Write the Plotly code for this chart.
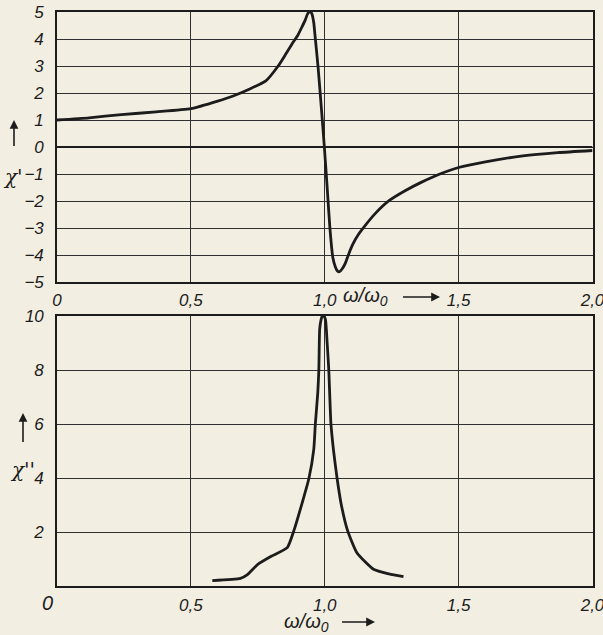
import plotly.graph_objects as go

# chi' (dispersion)
chi1_x = [0, 0.12, 0.24, 0.37, 0.5, 0.6, 0.66, 0.72, 0.78, 0.826, 0.855, 0.88, 0.90, 0.915,
          0.927, 0.936, 0.944, 0.952, 0.959, 0.963, 0.975, 0.987, 0.9985, 1.009, 1.019, 1.03,
          1.04, 1.048, 1.055, 1.066, 1.077, 1.09, 1.105, 1.125, 1.15, 1.19, 1.24, 1.3, 1.36,
          1.43, 1.5, 1.6, 1.74, 1.87, 2.0]
chi1_y = [1.0, 1.08, 1.2, 1.3, 1.42, 1.7, 1.9, 2.15, 2.45, 3.0, 3.45, 3.85, 4.15, 4.45,
          4.7, 4.93, 5.02, 4.93, 4.6, 4.2, 2.97, 1.49, 0.0, -1.49, -2.97, -4.08,
          -4.45, -4.6, -4.62, -4.5, -4.3, -3.95, -3.6, -3.25, -2.92, -2.45, -1.99, -1.62, -1.31,
          -1.0, -0.76, -0.55, -0.33, -0.21, -0.13]

# chi'' (absorption)
chi2_x = [0.58, 0.685, 0.71, 0.75, 0.80, 0.86, 0.885, 0.916, 0.941, 0.959, 0.965, 0.974,
          0.978, 0.981, 0.986, 0.991, 0.997, 1.003, 1.009, 1.015, 1.023, 1.033, 1.046, 1.062,
          1.085, 1.12, 1.182, 1.24, 1.294]
chi2_y = [0.2, 0.28, 0.41, 0.8, 1.1, 1.42, 2.06, 3.09, 3.99, 5.06, 6.02, 7.16,
          8.02, 9.5, 9.85, 10.0, 10.0, 9.85, 9.0, 8.02, 6.02, 5.0, 3.99, 3.0,
          2.06, 1.23, 0.62, 0.45, 0.35]

x_ticks = [0, 0.5, 1.0, 1.5, 2.0]
x_ticktext = ["0", "0,5", "1,0", "1,5", "2,0"]
y1_ticks = [5, 4, 3, 2, 1, 0, -1, -2, -3, -4, -5]
y1_ticktext = ["5", "4", "3", "2", "1", "0", "\u22121", "\u22122", "\u22123", "\u22124", "\u22125"]
y2_ticks = [0, 2, 4, 6, 8, 10]
y2_ticktext = ["", "2", "4", "6", "8", "10"]

W, H = 603, 635
BG = "#f2eee2"
INK = "#1c1c1c"
FONT = "Liberation Sans Narrow, Liberation Sans, Arial, sans-serif"
tickfont = dict(family=FONT, size=17, color=INK, style="italic")

fig = go.Figure()
fig.add_trace(go.Scatter(x=chi1_x, y=chi1_y, mode="lines", xaxis="x", yaxis="y",
                         line=dict(color=INK, width=2.8, shape="spline", smoothing=0.5),
                         showlegend=False))
fig.add_trace(go.Scatter(x=chi2_x, y=chi2_y, mode="lines", xaxis="x2", yaxis="y2",
                         line=dict(color=INK, width=2.8, shape="spline", smoothing=0.5),
                         showlegend=False))

xdom = [57 / W, 592.5 / W]
ax_common = dict(showgrid=True, gridcolor="#303030", gridwidth=1, showline=True,
                 linecolor=INK, linewidth=1.6, mirror=True, ticks="", tickfont=tickfont,
                 zeroline=False, fixedrange=True, automargin=False)

fig.update_layout(
    width=W, height=H, margin=dict(l=0, r=0, t=0, b=0, pad=0),
    paper_bgcolor=BG, plot_bgcolor=BG, showlegend=False,
    xaxis=dict(domain=xdom, range=[0, 2], anchor="y", tickvals=x_ticks, ticktext=x_ticktext,
               ticklabelstandoff=2, ticklabeloverflow="allow", **ax_common),
    yaxis=dict(domain=[1 - 282 / H, 1 - 12 / H], range=[-5, 5], anchor="x",
               tickvals=y1_ticks, ticktext=y1_ticktext, ticklabelstandoff=8,
               ticklabeloverflow="allow", **ax_common),
    xaxis2=dict(domain=xdom, range=[0, 2], anchor="y2", tickvals=x_ticks[1:],
                ticktext=x_ticktext[1:], ticklabelstandoff=3, ticklabeloverflow="allow",
                **ax_common),
    yaxis2=dict(domain=[1 - 586 / H, 1 - 316 / H], range=[0, 10], anchor="x2",
                tickvals=y2_ticks, ticktext=y2_ticktext, ticklabelstandoff=8,
                ticklabeloverflow="allow", **ax_common),
)

# heavier zero line in the upper panel
fig.add_shape(type="line", xref="x", yref="y", x0=0, x1=2, y0=0, y1=0,
              line=dict(color=INK, width=2.2))

lab = dict(family=FONT, size=20, color=INK, style="italic")
chifont = dict(family="DejaVu Serif, serif", size=20, color=INK, style="italic")
arrow = dict(showarrow=True, arrowhead=2, arrowsize=1.1, arrowwidth=1.6, arrowcolor=INK, text=" ")
txt = dict(xref="paper", yref="paper", showarrow=False, xanchor="center", yanchor="middle")
ann = []
# upper panel: chi' label with arrow
ann.append(dict(x=14 / W, y=1 - 120 / H, xref="paper", yref="paper", ax=0, ay=36, **arrow))
ann.append(dict(x=13 / W, y=1 - 177 / H, text="\u03c7'", font=chifont, **txt))
ann.append(dict(x=365 / W, y=1 - 297 / H, text="\u03c9/\u03c9<sub>0</sub>", font=lab, **txt))
ann.append(dict(x=440 / W, y=1 - 297 / H, xref="paper", yref="paper", ax=-40, ay=0, **arrow))
# lower panel: chi'' label with arrow
ann.append(dict(x=23 / W, y=1 - 413 / H, xref="paper", yref="paper", ax=0, ay=39, **arrow))
ann.append(dict(x=22 / W, y=1 - 470 / H, text="\u03c7''", font=chifont, **txt))
ann.append(dict(x=47 / W, y=1 - 603 / H, text=x_ticktext[0], font=lab, **txt))
ann.append(dict(x=306 / W, y=1 - 622 / H, text="\u03c9/\u03c9<sub>0</sub>", font=lab, **txt))
ann.append(dict(x=375 / W, y=1 - 622 / H, xref="paper", yref="paper", ax=-36, ay=0, **arrow))
fig.update_layout(annotations=ann)

fig.write_html("out.html", config={"displayModeBar": False},
               post_script="document.body.style.margin='0';document.body.style.overflow='hidden';")
